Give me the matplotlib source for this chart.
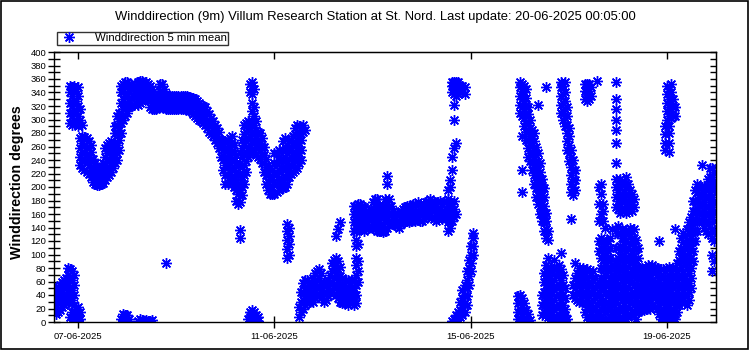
from datetime import datetime, timedelta
import matplotlib
matplotlib.use("Agg")
from matplotlib import pyplot as plt
import matplotlib.dates as mdates
from matplotlib.patches import Rectangle

plt.rcParams['font.family'] = ['Liberation Sans', 'DejaVu Sans']

title = "Winddirection (9m) Villum Research Station at St. Nord. Last update: 20-06-2025 00:05:00"
series_name = "Winddirection 5 min mean"
y_title = "Winddirection degrees"
x_ticks = ["2025-06-07", "2025-06-11", "2025-06-15", "2025-06-19"]
x_start = datetime(2025, 6, 6, 12, 5)
x_end = datetime(2025, 6, 20, 0, 5)

# (hour of day, wind directions seen around that hour)
jun06 = [
    (12.2, [18, 30, 42]), (13, [12, 25, 38, 50]), (14, [15, 28, 40, 52]),
    (15, [18, 30, 42, 55]), (16, [22, 35, 48, 60]), (17, [25, 38, 50, 62]),
    (18, [28, 40, 52, 65]), (19, [30, 45, 58, 70, 80]),
    (20, [8, 35, 50, 65, 78, 295, 310, 325, 340, 350]),
    (21, [5, 15, 32, 48, 62, 76, 292, 305, 320, 335, 348]),
    (22, [3, 12, 25, 40, 55, 70, 295, 310, 325, 340, 350]),
    (23, [2, 10, 20, 298, 312, 328, 342]),
]
jun07 = [
    (0, [3, 12, 22, 290, 305, 320, 335, 348]), (1, [5, 15, 232, 245, 258, 272, 300, 315]),
    (2, [228, 240, 252, 265, 275, 292]), (3, [225, 238, 250, 262, 274]),
    (4, [222, 235, 248, 260, 272]), (5, [220, 232, 245, 258, 268]),
    (6, [215, 228, 240, 252, 262]), (7, [208, 218, 230, 242]),
    (8, [205, 215, 225, 235]), (9, [203, 212, 222, 230]),
    (10, [203, 210, 220, 228]), (11, [205, 212, 222, 230]),
    (12, [206, 215, 225, 235]), (13, [210, 220, 232, 245, 258]),
    (14, [215, 225, 238, 250, 262]), (15, [218, 230, 242, 255, 265]),
    (16, [222, 235, 248, 260, 268]), (17, [228, 240, 252, 262]),
    (18, [235, 245, 255, 265, 280, 290]), (19, [240, 250, 262, 280, 292, 305]),
    (20, [255, 270, 285, 298, 310]), (21, [5, 280, 295, 310, 325, 340, 350]),
    (22, [3, 12, 300, 315, 330, 345, 352]), (23, [2, 10, 305, 320, 335, 348, 355]),
]
jun08 = [
    (0, [2, 10, 310, 322, 335, 348, 355]), (1, [5, 318, 330, 342, 352]),
    (2, [320, 332, 345, 352]), (3, [322, 335, 348]), (4, [325, 335, 345]),
    (5, [2, 322, 335, 348, 356]), (6, [5, 325, 338, 350, 357]),
    (7, [3, 328, 340, 352, 357]), (8, [2, 330, 342, 354]),
    (9, [3, 332, 345, 355]), (10, [2, 330, 343, 353]),
    (11, [2, 318, 330, 342, 350]), (12, [3, 315, 325, 338, 345]),
    (13, [315, 325, 335]), (14, [315, 325, 335]), (15, [318, 328, 338]),
    (16, [318, 330, 342, 352]), (17, [318, 330, 342, 352]), (18, [318, 330, 345]),
    (19, [88, 316, 328, 338]), (20, [315, 325, 335]), (21, [315, 325, 335]),
    (22, [315, 325, 335]), (23, [315, 325, 335]),
]
jun09 = [
    (0, [315, 325, 335]), (1, [315, 325, 335]), (2, [315, 325, 335]),
    (3, [315, 325, 335]), (4, [315, 325, 335]), (5, [315, 325, 335]),
    (6, [313, 323, 333]), (7, [312, 322, 332]), (8, [308, 320, 332]),
    (9, [305, 318, 330]), (10, [302, 315, 328]), (11, [300, 312, 325]),
    (12, [298, 310, 322]), (13, [295, 308, 320]), (14, [292, 305, 318]),
    (15, [288, 300, 312]), (16, [282, 295, 308]), (17, [278, 290, 302]),
    (18, [275, 285, 298]), (19, [270, 280, 292]), (20, [265, 275, 288]),
    (21, [258, 270, 282]), (22, [245, 258, 270]), (23, [225, 240, 255, 268]),
]
jun10 = [
    (0, [205, 218, 232, 245, 258, 268]), (1, [205, 218, 230, 242, 255, 268]),
    (2, [210, 222, 235, 248, 260, 272]), (3, [212, 225, 238, 250, 262, 275]),
    (4, [200, 212, 225, 238, 250, 262]), (5, [180, 195, 208, 222, 235, 248]),
    (6, [175, 190, 205, 218, 232]), (7, [125, 136, 178, 192, 205, 220, 235, 250]),
    (8, [188, 200, 215, 230, 245, 258, 270]), (9, [205, 218, 232, 248, 262, 278, 292]),
    (10, [222, 238, 252, 268, 282, 295]), (11, [5, 245, 258, 272, 285, 298]),
    (12, [8, 15, 250, 262, 275, 288, 340, 352]),
    (13, [3, 12, 18, 255, 268, 282, 298, 312, 325, 338, 350, 356]),
    (14, [5, 15, 252, 265, 278, 292, 305, 318, 345]),
    (15, [3, 10, 248, 260, 272, 285, 298]), (16, [2, 8, 245, 258, 270, 282]),
    (17, [242, 255, 268, 280]), (18, [235, 248, 260, 272]),
    (19, [222, 235, 248, 260]), (20, [205, 218, 230, 242]),
    (21, [195, 208, 220, 232]), (22, [190, 202, 215, 228]), (23, [190, 200, 212, 225]),
]
jun11 = [
    (0, [190, 205, 220, 235, 250]), (1, [192, 205, 220, 235, 250]),
    (2, [195, 210, 225, 240, 255]), (3, [200, 212, 228, 242]),
    (4, [198, 210, 225, 240, 255, 268]), (5, [200, 215, 230, 245, 260, 272]),
    (6, [95, 108, 122, 135, 145, 205, 220, 235, 250, 262]),
    (7, [100, 115, 128, 140, 215, 228, 242, 255, 268]),
    (8, [220, 232, 245, 258, 270]), (9, [222, 235, 248, 262, 275]),
    (10, [225, 238, 250, 265, 278, 288]), (11, [228, 240, 255, 270, 282, 292]),
    (12, [8, 22, 235, 250, 265, 280, 290]), (13, [15, 30, 45, 240, 255, 270, 285]),
    (14, [20, 32, 45, 58, 282, 292]), (15, [25, 38, 50, 62, 285]),
    (16, [28, 40, 52, 62]), (17, [30, 42, 55]), (18, [32, 45, 58]),
    (19, [30, 42, 55, 65]), (20, [35, 48, 60, 72]), (21, [38, 50, 62, 75]),
    (22, [40, 52, 65, 78]), (23, [35, 48, 60, 72]),
]
jun12 = [
    (0, [30, 42, 55]), (1, [32, 45, 58]), (2, [38, 50, 62]), (3, [45, 58, 70]),
    (4, [48, 60, 75, 88]), (5, [50, 65, 80, 92]), (6, [40, 55, 70, 85, 95, 128]),
    (7, [35, 48, 62, 78, 90, 138]), (8, [30, 42, 55, 68, 82, 148]),
    (9, [28, 40, 52, 65]), (10, [30, 42, 55]), (11, [28, 40, 52, 62]),
    (12, [25, 38, 50, 62]), (13, [30, 42, 55]), (14, [28, 40, 52, 62]),
    (15, [25, 38, 50, 62, 135, 148, 160, 172]),
    (16, [28, 40, 55, 70, 85, 95, 112, 122, 135, 148, 160, 172]),
    (17, [60, 75, 90, 115, 138, 150, 162, 175]), (18, [140, 152, 165, 175]),
    (19, [138, 150, 162, 172]), (20, [135, 148, 160, 170]),
    (21, [138, 150, 162]), (22, [140, 152, 165]), (23, [142, 155, 168]),
]
jun13 = [
    (0, [140, 152, 165, 178]), (1, [138, 150, 162, 175, 182]),
    (2, [135, 148, 160, 172, 182]), (3, [135, 148, 160, 172]),
    (4, [135, 145, 158, 170]), (5, [133, 145, 158, 170]),
    (6, [135, 148, 160, 172, 182]), (7, [140, 152, 165, 178, 205, 216]),
    (8, [145, 158, 170, 182]), (9, [148, 160, 172]), (10, [145, 155, 165]),
    (11, [143, 152, 162]), (12, [142, 150, 160]), (13, [140, 148, 158]),
    (14, [145, 155, 165]), (15, [148, 158, 168]), (16, [150, 160, 170]),
    (17, [150, 162, 172]), (18, [148, 160, 172]), (19, [150, 160, 170]),
    (20, [152, 162, 175]), (21, [150, 162, 175]), (22, [152, 165, 178]),
    (23, [150, 162, 175]),
]
jun14 = [
    (0, [150, 160, 172]), (1, [152, 162, 175]), (2, [155, 165, 178]),
    (3, [155, 168, 180]), (4, [158, 170, 182]), (5, [155, 168, 180]),
    (6, [152, 165, 178]), (7, [150, 162, 175]), (8, [152, 165, 178]),
    (9, [155, 168, 180]), (10, [152, 165, 175]), (11, [155, 165, 178]),
    (12, [155, 168, 180]), (13, [135, 148, 160, 172, 182, 195]),
    (14, [140, 152, 165, 178, 200, 210]),
    (15, [2, 150, 162, 175, 225, 245, 340, 350, 356]),
    (16, [5, 155, 168, 180, 258, 300, 322, 338, 348, 355]),
    (17, [3, 10, 160, 265, 335, 345, 355]), (18, [5, 15, 338, 348, 356]),
    (19, [8, 18, 30, 340, 350]), (20, [10, 22, 35, 48, 340, 350]),
    (21, [15, 28, 40, 55, 338, 348]), (22, [25, 38, 50, 62, 75]),
    (23, [55, 68, 80, 92]),
]
jun15 = [
    (0, [75, 88, 100, 112]), (1, [100, 112, 125, 132]), (23, [5, 15, 28, 38]),
]
jun16 = [
    (0, [5, 15, 28, 40, 310, 322, 335, 348, 355]),
    (1, [2, 12, 25, 35, 192, 225, 275, 305, 318, 330, 342, 352]),
    (2, [3, 15, 28, 290, 302, 315, 328, 340, 350]),
    (3, [5, 18, 270, 282, 295, 308, 320, 332, 345]),
    (4, [2, 12, 245, 258, 270, 282, 295, 308, 318]),
    (5, [3, 238, 250, 262, 275, 288, 300]), (6, [225, 238, 250, 262, 275, 285]),
    (7, [205, 218, 230, 242, 255, 268, 280]), (8, [185, 198, 210, 222, 235, 248, 260]),
    (9, [175, 188, 200, 212, 225, 238, 250, 322]),
    (10, [160, 172, 185, 198, 210, 222, 235]),
    (11, [10, 25, 40, 150, 162, 175, 188, 200, 212]),
    (12, [15, 30, 45, 60, 72, 135, 148, 160, 172, 185, 198]),
    (13, [10, 25, 40, 55, 70, 85, 125, 138, 150, 162, 348]),
    (14, [8, 22, 38, 52, 68, 82, 95, 122, 135]),
    (15, [5, 20, 35, 50, 65, 80]), (16, [3, 15, 30, 45, 60, 75]),
    (17, [5, 18, 32, 48, 62, 78, 92]), (18, [8, 22, 38, 52, 68, 80]),
    (19, [10, 25, 40, 55, 70, 85]),
    (20, [5, 18, 32, 48, 62, 78, 102, 310, 322, 335, 348, 356]),
    (21, [2, 12, 25, 40, 55, 70, 300, 312, 325, 338, 350]),
    (22, [3, 10, 20, 35, 50, 290, 302, 315, 328, 340, 355]),
    (23, [5, 255, 268, 280, 292, 305, 318]),
]
jun17 = [
    (0, [238, 250, 262, 275, 288]), (1, [152, 192, 205, 218, 230, 245, 255]),
    (2, [40, 55, 188, 200, 212, 225, 240]), (3, [35, 50, 65, 88, 195, 210, 225]),
    (4, [32, 45, 58, 72]), (5, [30, 42, 55, 68, 80]), (6, [35, 48, 60, 75]),
    (7, [30, 42, 55, 68, 80]), (8, [15, 28, 40, 55, 70, 330, 342, 352]),
    (9, [8, 20, 35, 50, 65, 78, 328, 340, 352]),
    (10, [5, 18, 30, 45, 60, 75, 330, 342, 352]),
    (11, [3, 15, 28, 42, 55, 70, 335, 348]), (12, [5, 18, 32, 48, 62, 75]),
    (13, [8, 20, 35, 50, 65]), (14, [3, 12, 25, 40, 55, 357]),
    (15, [5, 15, 30, 45, 60, 105, 120, 150, 175, 200]),
    (16, [8, 20, 35, 50, 65, 80, 95, 110, 125, 160, 190, 205]),
    (17, [5, 18, 32, 48, 62, 78, 92, 108, 122, 150, 165, 175]),
    (18, [3, 15, 28, 42, 55, 70, 85, 100, 115, 140]),
    (19, [5, 18, 30, 45, 60, 75, 90, 105, 120]),
    (20, [8, 20, 35, 50, 65, 80, 95, 110, 125]),
    (21, [5, 15, 30, 45, 60, 138]), (22, [3, 12, 25, 40, 55, 70, 85]),
    (23, [5, 15, 30, 45, 60, 75, 90, 110, 170, 185, 200, 212, 235, 265, 285,
          300, 315, 330, 355]),
]
jun18 = [
    (0, [5, 20, 35, 50, 65, 80, 95, 110, 132, 142, 168, 180, 192, 205]),
    (1, [8, 22, 38, 52, 68, 82, 98, 112, 130, 162, 175, 188, 200, 212]),
    (2, [5, 18, 32, 48, 62, 78, 92, 108, 125, 138, 165, 178, 190, 205]),
    (3, [10, 25, 40, 55, 70, 85, 100, 115, 128, 165, 178, 192, 205]),
    (4, [5, 18, 32, 48, 62, 78, 92, 105, 120, 135, 162, 175, 188, 200, 215]),
    (5, [8, 22, 38, 52, 68, 82, 95, 110, 130, 165, 178, 190, 205]),
    (6, [12, 28, 42, 58, 72, 88, 100, 115, 128, 140, 170, 182, 195]),
    (7, [15, 30, 45, 60, 75, 90, 105, 120, 135, 165, 178, 190]),
    (8, [10, 25, 40, 55, 70, 85, 98, 112, 125, 138, 170, 182]),
    (9, [5, 20, 35, 50, 65, 80, 92, 108, 122]),
    (10, [15, 28, 42, 55, 68, 80, 95, 110]), (11, [18, 30, 42, 55, 68, 80]),
    (12, [20, 32, 45, 58, 70, 80]), (13, [18, 30, 42, 55, 68, 78]),
    (14, [20, 32, 45, 58, 70, 80]), (15, [22, 35, 48, 60, 72, 85]),
    (16, [20, 32, 45, 58, 70, 82]), (17, [25, 38, 50, 62, 75, 85]),
    (18, [22, 35, 48, 60, 72, 82]), (19, [20, 32, 45, 58, 70, 80]),
    (20, [12, 25, 38, 50, 62, 75, 120]), (21, [5, 15, 28, 40, 52, 65, 78]),
    (22, [3, 15, 28, 40, 52, 65, 78]), (23, [10, 25, 38, 50, 62, 75, 255, 265, 278, 290]),
]
jun19 = [
    (0, [5, 18, 32, 48, 62, 78, 300, 312, 325, 338, 350]),
    (1, [10, 25, 40, 55, 70, 82, 252, 265, 280, 290, 305, 318, 330, 345]),
    (2, [5, 18, 32, 48, 62, 75, 302, 315, 328, 340, 352]),
    (3, [15, 28, 42, 55, 68, 80, 305, 318, 330]),
    (4, [5, 12, 25, 40, 55, 70, 138, 305, 318]),
    (5, [15, 30, 45, 60, 75, 88]), (6, [25, 38, 50, 65, 78, 92, 105]),
    (7, [30, 42, 55, 68, 82, 95, 110, 125]), (8, [35, 48, 60, 75, 90, 105, 118, 132]),
    (9, [30, 42, 55, 68, 85, 100, 115, 128]),
    (10, [25, 38, 50, 62, 78, 92, 108, 122, 138]),
    (11, [32, 45, 58, 72, 88, 102, 118, 132, 148]),
    (12, [50, 65, 80, 95, 110, 125, 140, 155]),
    (13, [90, 105, 120, 135, 150, 165, 180]), (14, [120, 135, 150, 165, 180, 195]),
    (15, [135, 150, 165, 178, 192, 205]), (16, [150, 162, 175, 188, 200]),
    (17, [150, 162, 175, 188, 200, 232]), (18, [140, 152, 165, 178, 190, 202]),
    (19, [135, 148, 160, 172, 185, 198]), (20, [130, 145, 160, 172, 185, 200, 212]),
    (21, [165, 178, 190, 202, 215, 228]),
    (22, [75, 100, 125, 138, 155, 170, 185, 200, 215, 228]),
    (23, [90, 120, 135, 150, 165, 180, 195, 208, 222]),
]

days = [(6, jun06), (7, jun07), (8, jun08), (9, jun09), (10, jun10), (11, jun11),
        (12, jun12), (13, jun13), (14, jun14), (15, jun15), (16, jun16), (17, jun17),
        (18, jun18), (19, jun19)]

times = []
values = []
for day, rows in days:
    for hour, dirs in rows:
        for d in dirs:
            times.append(datetime(2025, 6, day) + timedelta(hours=hour))
            values.append(d)

fig = plt.figure(figsize=(7.5, 3.5), dpi=100)
ax = fig.add_axes([54 / 750, 28 / 350, 662 / 750, 270 / 350])

ax.plot(times, values, ls="none", marker=(8, 2, 0), ms=7.8, mew=1.0,
        color="#0000ff", label=series_name)

ax.set_xlim(x_start, x_end)
ax.set_ylim(0, 400)
ax.set_yticks(range(0, 401, 20))
ax.set_yticks(range(10, 400, 20), minor=True)
ax.set_xticks([datetime.strptime(s, "%Y-%m-%d") for s in x_ticks])
ax.xaxis.set_major_formatter(mdates.DateFormatter("%d-%m-%Y"))

for s in ax.spines.values():
    s.set_linewidth(1.0)
ax.tick_params(axis="both", which="both", direction="inout", length=9, width=1.0,
               labelsize=6.8, colors="black")
ax.tick_params(axis="x", pad=3)
ax.tick_params(axis="y", pad=1)

right = ax.secondary_yaxis("right")
right.set_yticks(range(0, 401, 10))
right.tick_params(direction="in", length=4, width=1.0, labelright=False)
top = ax.secondary_xaxis("top")
top.set_xticks([datetime.strptime(s, "%Y-%m-%d") for s in x_ticks])
top.tick_params(direction="in", length=5, width=1.0, labeltop=False)

fig.text(0.5, 1 - 17 / 350, title, ha="center", va="center", fontsize=9.4)
fig.text(17 / 750, 1 - 182 / 350, y_title, rotation=90, ha="center", va="center",
         fontsize=10.3, fontweight="bold")

leg = ax.legend(loc="lower left", bbox_to_anchor=(57 / 750, 1 - 44.5 / 350),
                bbox_transform=fig.transFigure, fontsize=8.2, frameon=True,
                fancybox=False, borderpad=0.12, borderaxespad=0, numpoints=1,
                handlelength=1.8, handletextpad=1.4, markerscale=1.0)
leg.get_frame().set_edgecolor("black")
leg.get_frame().set_linewidth(1.0)

fig.patches.append(Rectangle((0.001, 0.002), 0.996, 0.995, transform=fig.transFigure,
                             fill=False, edgecolor="black", linewidth=1.2))

fig.savefig("out.png", dpi=100)
